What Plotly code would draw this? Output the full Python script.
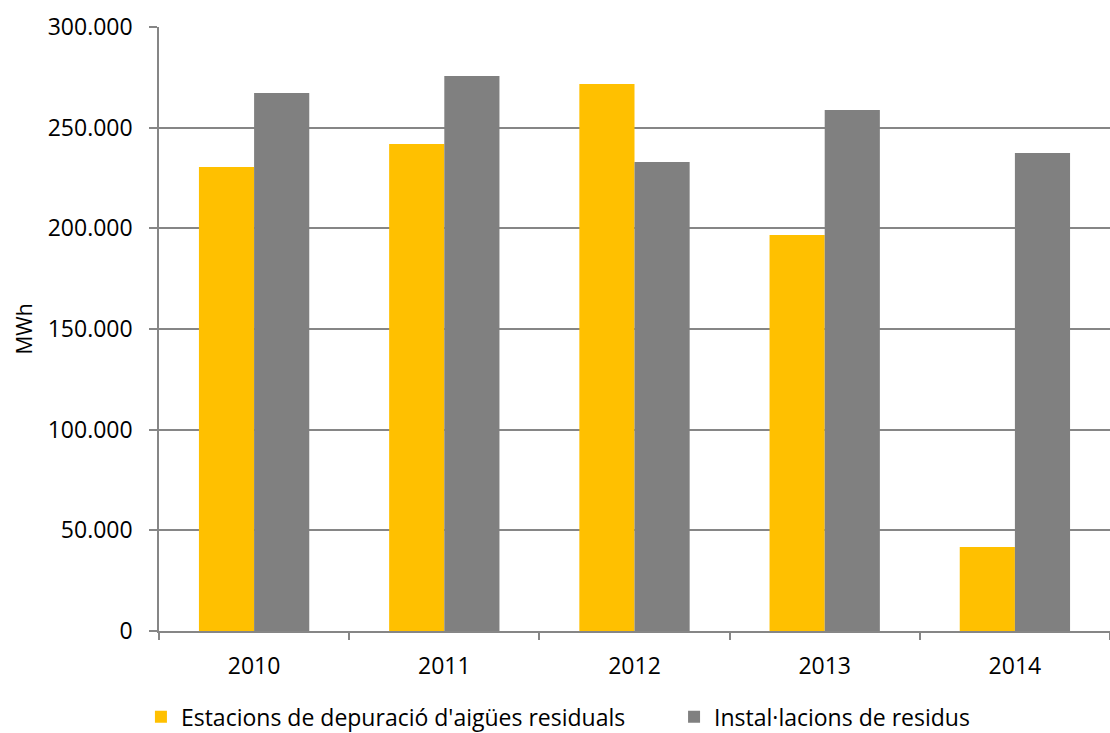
import plotly.graph_objects as go

years = ["2010", "2011", "2012", "2013", "2014"]
edar = [230500, 241900, 271700, 196700, 41700]
residus = [267200, 275700, 232900, 258800, 237400]
series_names = ["Estacions de depuració d'aigües residuals", "Instal·lacions de residus"]
y_ticks = [0, 50000, 100000, 150000, 200000, 250000, 300000]

fig = go.Figure()
fig.add_trace(go.Bar(x=years, y=edar, name=series_names[0], legend="legend",
                     marker=dict(color="#FFC000", line=dict(width=0))))
fig.add_trace(go.Bar(x=years, y=residus, name=series_names[1], legend="legend2",
                     marker=dict(color="#808080", line=dict(width=0))))

leg_common = dict(orientation="h", xanchor="left", yanchor="middle", y=-0.142,
                  font=dict(size=23), itemwidth=30, bgcolor="rgba(0,0,0,0)")

fig.update_layout(
    width=1110, height=733,
    paper_bgcolor="white", plot_bgcolor="white",
    margin=dict(l=159, r=0, t=27, b=102, autoexpand=False),
    barmode="group", bargap=0.42, bargroupgap=0,
    separators=",.",
    font=dict(family="Open Sans", size=23, color="black"),
    legend=dict(x=-0.019, **leg_common),
    legend2=dict(x=0.5416, **leg_common),
    showlegend=True,
)
fig.update_xaxes(
    type="category", showline=True, linecolor="#868686", linewidth=1.5,
    ticks="outside", tickson="boundaries", ticklen=7, tickcolor="#868686", tickwidth=1.5,
    showgrid=False, tickfont=dict(size=23), ticklabelstandoff=14,
)
fig.update_yaxes(
    range=[0, 300000], tickvals=y_ticks, tickformat=",d",
    showline=True, linecolor="#868686", linewidth=1.5,
    ticks="outside", ticklen=8, tickcolor="#868686", tickwidth=1.5,
    showgrid=True, gridcolor="#868686", gridwidth=1.5, zeroline=False,
    title=dict(text="MWh", font=dict(size=21), standoff=9), tickfont=dict(size=23),
    ticklabelstandoff=12,
)
fig.write_html("out.html", config={"displayModeBar": False},
               post_script="document.body.style.margin='0';document.body.style.overflow='hidden';")
